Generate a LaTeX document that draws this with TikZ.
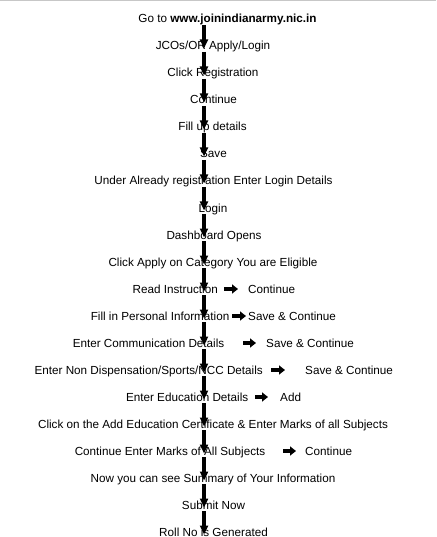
\documentclass[tikz,border=0pt]{standalone}
\usepackage{fontspec}
\setmainfont{Liberation Sans}
\usetikzlibrary{arrows.meta,calc}
\begin{document}
\begin{tikzpicture}[x=1pt,y=-1pt,
  lbl/.style={inner sep=0pt, font=\fontsize{11.7}{14}\selectfont, anchor=base},
  varr/.style={line width=3.3pt, -{Triangle[width=8pt,length=9pt]}},
  sarr/.style={line width=3.8pt, -{Triangle[width=9pt,length=6pt]}}]
\useasboundingbox (0,0) rectangle (436,537);
\fill[black!22] (0,0) rectangle (436,1.5);
\coordinate (col) at (204,0);
\node[lbl] (n1) at (227.5,23) {Go to \textbf{www.joinindianarmy.nic.in}};
\node[lbl] (n2) at (213,50) {JCOs/OR Apply/Login};
\node[lbl] (n3) at (213,77) {Click Registration};
\node[lbl] (n4) at (213.5,104) {Continue};
\node[lbl] (n5) at (212.5,131) {Fill up details};
\node[lbl] (n6) at (213.5,158) {Save};
\node[lbl] (n7) at (213.5,185) {Under Already registration Enter Login Details};
\node[lbl] (n8) at (213,212) {Login};
\node[lbl] (n9) at (214,239) {Dashboard Opens};
\node[lbl] (n10) at (213,266) {Click Apply on Category You are Eligible};
\node[lbl,anchor=base east] (n11) at (218,293) {Read Instruction};
\node[lbl,anchor=base west] (n11b) at (248,293) {Continue};
\node[lbl,anchor=base east] (n12) at (229.5,320) {Fill in Personal Information};
\node[lbl,anchor=base west] (n12b) at (248,320) {Save \& Continue};
\node[lbl,anchor=base east] (n13) at (224.5,347) {Enter Communication Details};
\node[lbl,anchor=base west] (n13b) at (266,347) {Save \& Continue};
\node[lbl,anchor=base east] (n14) at (263,374) {Enter Non Dispensation/Sports/NCC Details};
\node[lbl,anchor=base west] (n14b) at (305,374) {Save \& Continue};
\node[lbl,anchor=base east] (n15) at (248.5,401) {Enter Education Details};
\node[lbl,anchor=base west] (n15b) at (280,401) {Add};
\node[lbl] (n16) at (213,428) {Click on the Add Education Certificate \& Enter Marks of all Subjects};
\node[lbl,anchor=base east] (n17) at (265.5,455) {Continue Enter Marks of All Subjects};
\node[lbl,anchor=base west] (n17b) at (305,455) {Continue};
\node[lbl] (n18) at (213,482) {Now you can see Summary of Your Information};
\node[lbl] (n19) at (213.5,509) {Submit Now};
\node[lbl] (n20) at (213.5,536) {Roll No is Generated};
% side arrows
\draw[sarr] ($(n11.base east)+(6,-4)$) -- ++(14,0);
\draw[sarr] ($(n12.base east)+(2.5,-4)$) -- ++(14,0);
\draw[sarr] ($(n13.base east)+(18.5,-4)$) -- ++(13,0);
\draw[sarr] ($(n14.base east)+(8,-4)$) -- ++(14,0);
\draw[sarr] ($(n15.base east)+(6.5,-4)$) -- ++(13,0);
\draw[sarr] ($(n17.base east)+(17.5,-4)$) -- ++(13,0);
% vertical arrows
\foreach \a/\b in {n1/n2,n2/n3,n3/n4,n4/n5,n5/n6,n6/n7,n7/n8,n8/n9,n9/n10,n10/n11,n11/n12,n12/n13,n13/n14,n14/n15,n15/n16,n16/n17,n17/n18,n18/n19,n19/n20}
  \draw[varr] ($(\a.base -| col)+(0,2)$) -- ($(\b.base -| col)+(0,-1.5)$);
\end{tikzpicture}
\end{document}
